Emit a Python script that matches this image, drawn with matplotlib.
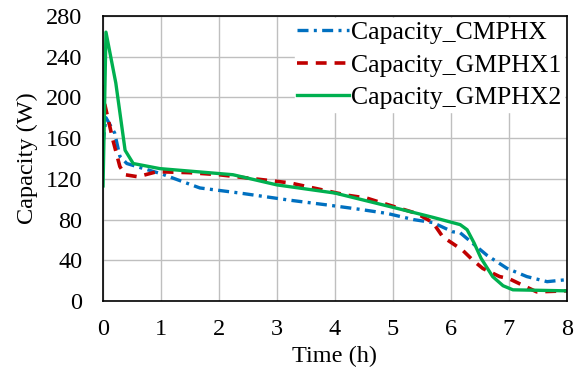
import matplotlib
matplotlib.use("Agg")
import matplotlib.pyplot as plt

# values
t_cm = [0.0, 0.05, 0.2, 0.29, 0.41, 0.7, 1.0, 1.67, 2.36, 3.22, 3.91, 4.43, 4.9, 5.35, 5.69, 6.03, 6.16, 6.62, 6.97, 7.31, 7.66, 8.0]
cap_cm = [155, 180, 165, 142, 135, 130, 125, 111, 106, 99, 94, 90, 86, 80, 77, 68, 67, 45, 32, 24, 19, 21]

t_g1 = [0.0, 0.03, 0.17, 0.29, 0.38, 0.6, 0.93, 1.5, 2.0, 3.22, 4.2, 4.55, 4.83, 5.12, 5.41, 5.69, 5.86, 6.2, 6.38, 6.55, 6.84, 7.0, 7.22, 7.48, 8.0]
cap_g1 = [212, 193, 158, 132, 124, 122, 127, 126, 124, 116, 104, 101, 96, 91, 86, 77, 63, 50, 40, 32, 24, 22, 16, 9, 10]

t_g2 = [0.0, 0.05, 0.22, 0.38, 0.52, 0.98, 2.24, 3.0, 4.0, 5.0, 5.7, 6.16, 6.28, 6.4, 6.52, 6.72, 6.9, 7.07, 8.0]
cap_g2 = [113, 264, 214, 148, 135, 130, 124, 114, 106, 92, 82, 75, 70, 57, 42, 24, 15, 11, 10]

plt.rcParams['font.family'] = 'Liberation Serif'
plt.rcParams['font.size'] = 17.5

fig = plt.figure(figsize=(5.79, 3.68), dpi=100)
ax = fig.add_axes([0.178, 0.182, 0.801, 0.775])

ax.plot(t_cm, cap_cm, color='#0070C0', lw=2.4, dashes=(3.3, 1.6, 0.9, 1.6), label='Capacity_CMPHX')
ax.plot(t_g1, cap_g1, color='#C00000', lw=2.6, dashes=(3.0, 2.2), label='Capacity_GMPHX1')
ax.plot(t_g2, cap_g2, color='#00B050', lw=2.4, label='Capacity_GMPHX2')

ax.set_xlim(0, 8)
ax.set_ylim(0, 280)
ax.set_xticks(range(0, 9))
ax.set_yticks(range(0, 281, 40))
ax.grid(True, color='#BFBFBF', lw=1)
ax.set_axisbelow(True)
ax.tick_params(axis='x', length=0, pad=13)
ax.tick_params(axis='y', length=0, pad=15)
for s in ax.spines.values():
    s.set_color('black')
    s.set_linewidth(1.2)

ax.set_xlabel('Time (h)', labelpad=4)
ax.set_ylabel('Capacity (W)', labelpad=6)

leg = ax.legend(loc='upper right', frameon=True, fancybox=False, framealpha=1,
                edgecolor='white', handlelength=2.0, handletextpad=0.1,
                labelspacing=0.38, borderaxespad=0.1, borderpad=0.1,
                prop={'size': 18.5})

fig.savefig('out.png', dpi=100)
